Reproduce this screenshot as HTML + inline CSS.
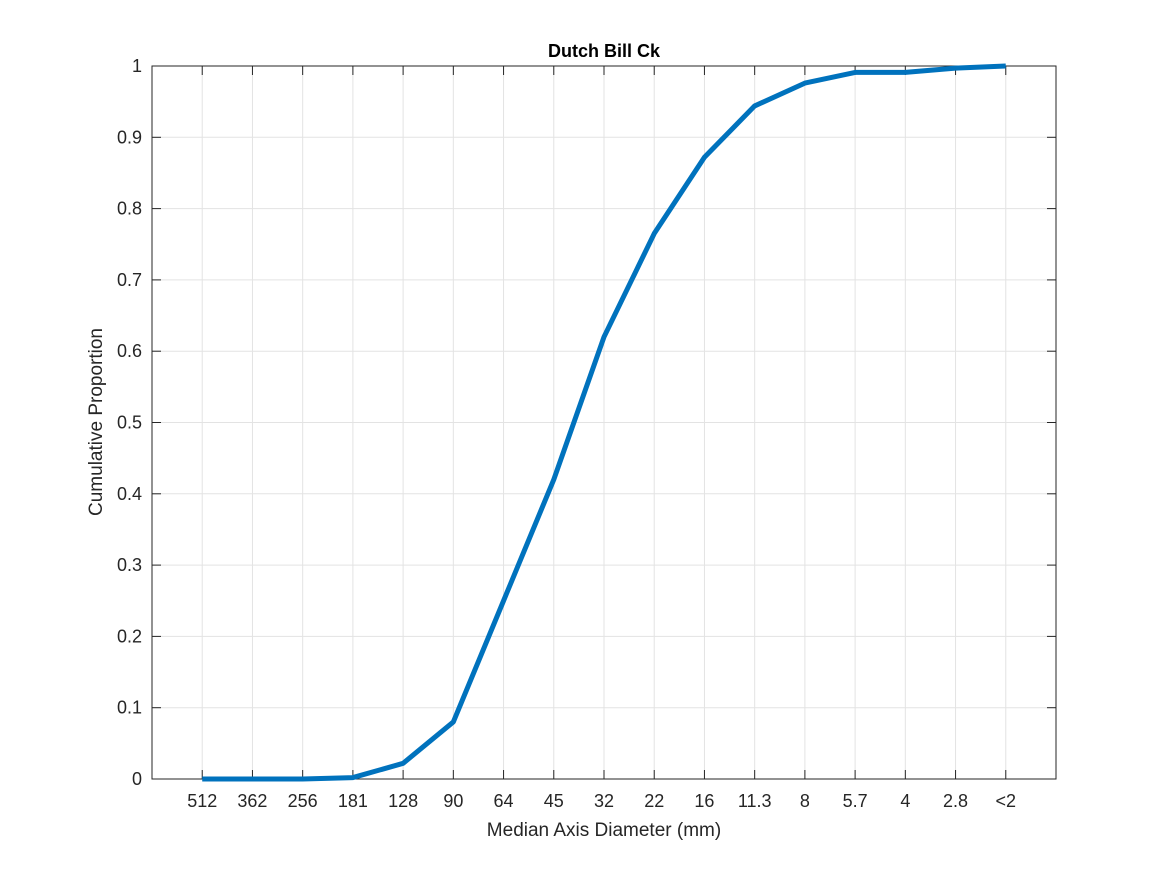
<!DOCTYPE html>
<html><head><meta charset="utf-8"><style>
body{margin:0;background:#fff;}
svg{display:block;font-family:"Liberation Sans",sans-serif;}
</style></head><body>
<svg id="chart" width="1167" height="875">
<rect width="1167" height="875" fill="#fff"/>
<g id="grid"></g>
<g id="axes"></g>
<text x="604" y="57" text-anchor="middle" font-size="18" font-weight="bold" fill="#000">Dutch Bill Ck</text>
<text x="604" y="836" text-anchor="middle" font-size="19" fill="#262626">Median Axis Diameter (mm)</text>
<text transform="translate(102,422) rotate(-90)" text-anchor="middle" font-size="19" fill="#262626">Cumulative Proportion</text>
</svg>
<script>
const categories = ["512","362","256","181","128","90","64","45","32","22","16","11.3","8","5.7","4","2.8","<2"];
const values = [0,0,0,0.002,0.022,0.08,0.25,0.42,0.62,0.765,0.872,0.944,0.976,0.991,0.991,0.997,1.0];
const yTicks = [0,0.1,0.2,0.3,0.4,0.5,0.6,0.7,0.8,0.9,1];
const yTickLabels = ["0","0.1","0.2","0.3","0.4","0.5","0.6","0.7","0.8","0.9","1"];

const L=152,R=1056,T=66,B=779;
const xs=i=>L+(i+1)*(R-L)/(categories.length+1);
const ys=v=>B-v*(B-T);
const NS="http://www.w3.org/2000/svg";
const svg=document.getElementById('chart');
const grid=document.getElementById('grid');
const axes=document.getElementById('axes');
function mk(tag,attrs,parent){const e=document.createElementNS(NS,tag);for(const k in attrs)e.setAttribute(k,attrs[k]);parent.appendChild(e);return e;}

categories.forEach((c,i)=>{
  const x=xs(i);
  const g=mk('line',{x1:x,x2:x,y1:T,y2:B,stroke:'#e3e3e3','stroke-width':1},grid);
  
  
  const t1=mk('line',{x1:x,x2:x,y1:B,y2:B-9,stroke:'#262626','stroke-width':1},axes);
  
  
  const t2=mk('line',{x1:x,x2:x,y1:T,y2:T+9,stroke:'#262626','stroke-width':1},axes);
  
  
  const tx=mk('text',{x:x,y:807,'text-anchor':'middle','font-size':18,fill:'#262626'},axes);
  tx.textContent=c;
  
  
});
yTicks.forEach((v,i)=>{
  const y=ys(v);
  const g=mk('line',{x1:L,x2:R,y1:y,y2:y,stroke:'#e3e3e3','stroke-width':1},grid);
  
  
  const t1=mk('line',{x1:L,x2:L+9,y1:y,y2:y,stroke:'#262626','stroke-width':1},axes);
  
  
  const t2=mk('line',{x1:R,x2:R-9,y1:y,y2:y,stroke:'#262626','stroke-width':1},axes);
  
  
  const tx=mk('text',{x:L-10,y:y+6,'text-anchor':'end','font-size':18,fill:'#262626'},axes);
  tx.textContent=yTickLabels[i];
  
  
});
const box=mk('rect',{x:L,y:T,width:R-L,height:B-T,fill:'none',stroke:'#262626','stroke-width':1},axes);


const pts=values.map((v,i)=>xs(i)+','+ys(v)).join(' ');
const line=mk('polyline',{points:pts,fill:'none',stroke:'#0072bd','stroke-width':5,'stroke-linejoin':'round'},svg);


</script>
</body></html>
